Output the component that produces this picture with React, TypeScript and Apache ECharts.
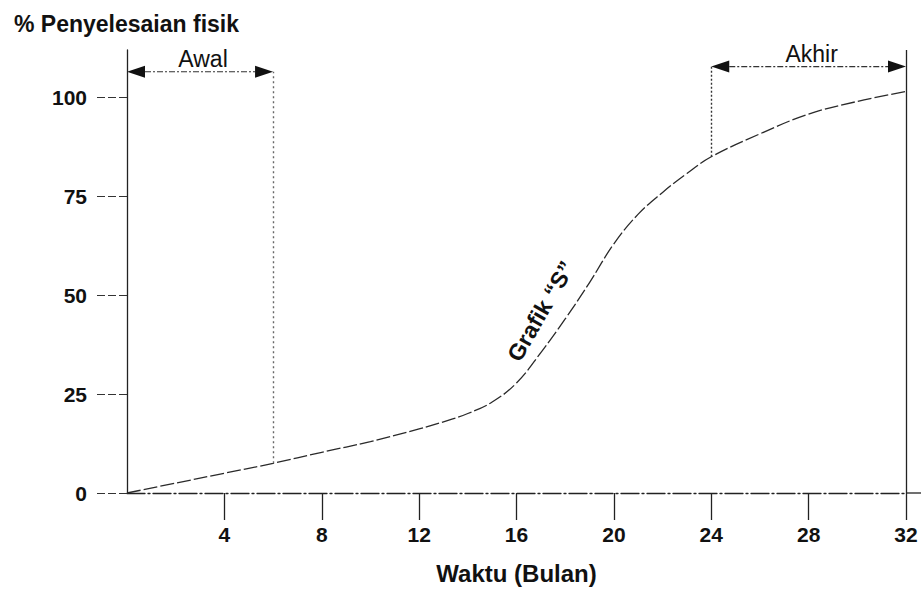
import React, { useEffect, useRef } from "react";
import * as echarts from "echarts";

const months = [0, 2, 4, 6, 8, 10, 12, 13, 14, 15, 16, 17, 18, 19, 20, 21, 22, 23, 24, 26, 28, 30, 32];
const progress = [0, 2.5, 5, 7.5, 10.3, 13, 16.2, 18, 20.1, 23, 27.8, 35.5, 44, 53.2, 63, 70.5, 76, 80.8, 85, 90.8, 95.8, 99, 101.5];

const xTicks = [4, 8, 12, 16, 20, 24, 28, 32];
const yTicks = [0, 25, 50, 75, 100];

// phases: name, start month, end month, level (%) of the dimension arrow
const phaseNames = ["Awal", "Akhir"];
const phaseFrom = [0, 24];
const phaseTo = [6, 32];
const phaseLevel = [106.5, 107.8];

const curveLabel = "Grafik \u201cS\u201d";
const curveLabelAt = [17.0, 46];

const FONT = "'Liberation Sans', Arial, sans-serif";

function progressAt(m: number): number {
  const i = months.indexOf(m);
  return i >= 0 ? progress[i] : 0;
}

export default function App() {
  const ref = useRef<HTMLDivElement>(null);

  useEffect(() => {
    if (!ref.current) return;
    const chart = echarts.init(ref.current, undefined, { renderer: "svg" });

    const guideLines: any[] = [
      [
        { coord: [phaseTo[0], progressAt(phaseTo[0])], lineStyle: { color: "#666", type: [2, 3], width: 1.4 } },
        { coord: [phaseTo[0], phaseLevel[0]] },
      ],
      [
        { coord: [phaseFrom[1], progressAt(phaseFrom[1])], lineStyle: { color: "#333", type: [2, 2], width: 1.4 } },
        { coord: [phaseFrom[1], phaseLevel[1]] },
      ],
      [
        { coord: [phaseTo[1], 0], lineStyle: { color: "#222", type: "solid", width: 1.3 } },
        { coord: [phaseTo[1], 112] },
      ],
    ];

    const option: any = {
      animation: false,
      backgroundColor: "#fff",
      title: {
        text: "% Penyelesaian fisik",
        left: 9,
        top: 7,
        textStyle: { fontFamily: FONT, fontWeight: "bold", fontSize: 23, color: "#111" },
      },
      grid: { left: 127, right: 15, top: 50, bottom: 95 },
      xAxis: {
        type: "value",
        min: 0,
        max: 32,
        name: "Waktu (Bulan)",
        nameLocation: "middle",
        nameGap: 68,
        nameTextStyle: { fontFamily: FONT, fontWeight: "bold", fontSize: 24, color: "#111" },
        axisLine: { show: true, onZero: false, lineStyle: { color: "#222", width: 1.3, type: [18, 3, 2, 3] } },
        axisTick: { show: true, length: 27, customValues: xTicks, lineStyle: { color: "#222", width: 1.3 } },
        axisLabel: {
          customValues: xTicks,
          margin: 31,
          fontFamily: FONT,
          fontWeight: "bold",
          fontSize: 21,
          color: "#111",
        },
        splitLine: { show: false },
      },
      yAxis: {
        type: "value",
        min: 0,
        max: 112,
        axisLine: { show: true, onZero: false, lineStyle: { color: "#222", width: 1.3 } },
        axisTick: { show: true, length: 30, customValues: yTicks, lineStyle: { color: "#333", width: 1.2, type: [8, 3] } },
        axisLabel: {
          customValues: yTicks,
          margin: 40,
          fontFamily: FONT,
          fontWeight: "bold",
          fontSize: 21,
          color: "#111",
        },
        splitLine: { show: false },
      },
      series: [
        {
          type: "line",
          data: months.map((m, i) => [m, progress[i]]),
          smooth: 0.4,
          showSymbol: false,
          symbol: "none",
          lineStyle: { color: "#2a2a2a", width: 1.3, type: [14, 3] },
          markLine: {
            silent: true,
            symbol: ["none", "none"],
            label: { show: false },
            data: guideLines,
          },
        },
      ],
    };

    chart.setOption(option);

    const graphics: any[] = [];
    const ARROW_LEN = 18;
    const ARROW_HALF = 6;
    for (let i = 0; i < phaseNames.length; i++) {
      const p0 = chart.convertToPixel({ gridIndex: 0 }, [phaseFrom[i], phaseLevel[i]]) as number[];
      const p1 = chart.convertToPixel({ gridIndex: 0 }, [phaseTo[i], phaseLevel[i]]) as number[];
      const y = p0[1];
      graphics.push({
        type: "line",
        shape: { x1: p0[0] + ARROW_LEN, y1: y, x2: p1[0] - ARROW_LEN, y2: y },
        style: { stroke: "#333", lineWidth: 1.1, lineDash: [6, 2, 2, 2] },
        silent: true,
      });
      graphics.push({
        type: "polygon",
        shape: { points: [[p0[0], y], [p0[0] + ARROW_LEN, y - ARROW_HALF], [p0[0] + ARROW_LEN, y + ARROW_HALF]] },
        style: { fill: "#111" },
        silent: true,
      });
      graphics.push({
        type: "polygon",
        shape: { points: [[p1[0], y], [p1[0] - ARROW_LEN, y - ARROW_HALF], [p1[0] - ARROW_LEN, y + ARROW_HALF]] },
        style: { fill: "#111" },
        silent: true,
      });
      graphics.push({
        type: "text",
        x: (p0[0] + p1[0]) / 2 + 3,
        y: y - 1,
        style: {
          text: phaseNames[i],
          fontFamily: FONT,
          fontSize: 23,
          fill: "#111",
          textAlign: "center",
          textVerticalAlign: "bottom",
        },
        silent: true,
      });
    }

    const lp = chart.convertToPixel({ gridIndex: 0 }, curveLabelAt) as number[];
    graphics.push({
      type: "text",
      x: lp[0],
      y: lp[1],
      rotation: (60 * Math.PI) / 180,
      style: {
        text: curveLabel,
        fontFamily: FONT,
        fontWeight: "bold",
        fontSize: 23,
        fill: "#111",
        textAlign: "center",
        textVerticalAlign: "middle",
      },
      silent: true,
    });

    // x-axis line continues a little past month 32
    const pEnd = chart.convertToPixel({ gridIndex: 0 }, [32, 0]) as number[];
    graphics.push({
      type: "line",
      shape: { x1: pEnd[0], y1: pEnd[1], x2: chart.getWidth(), y2: pEnd[1] },
      style: { stroke: "#222", lineWidth: 1.3, lineDash: [18, 3, 2, 3] },
      silent: true,
    });

    chart.setOption({ graphic: graphics });

    return () => chart.dispose();
  }, []);

  return (
    <div
      ref={ref}
      style={{ position: "fixed", left: 0, top: 0, width: 921, height: 590, background: "#fff" }}
    />
  );
}
